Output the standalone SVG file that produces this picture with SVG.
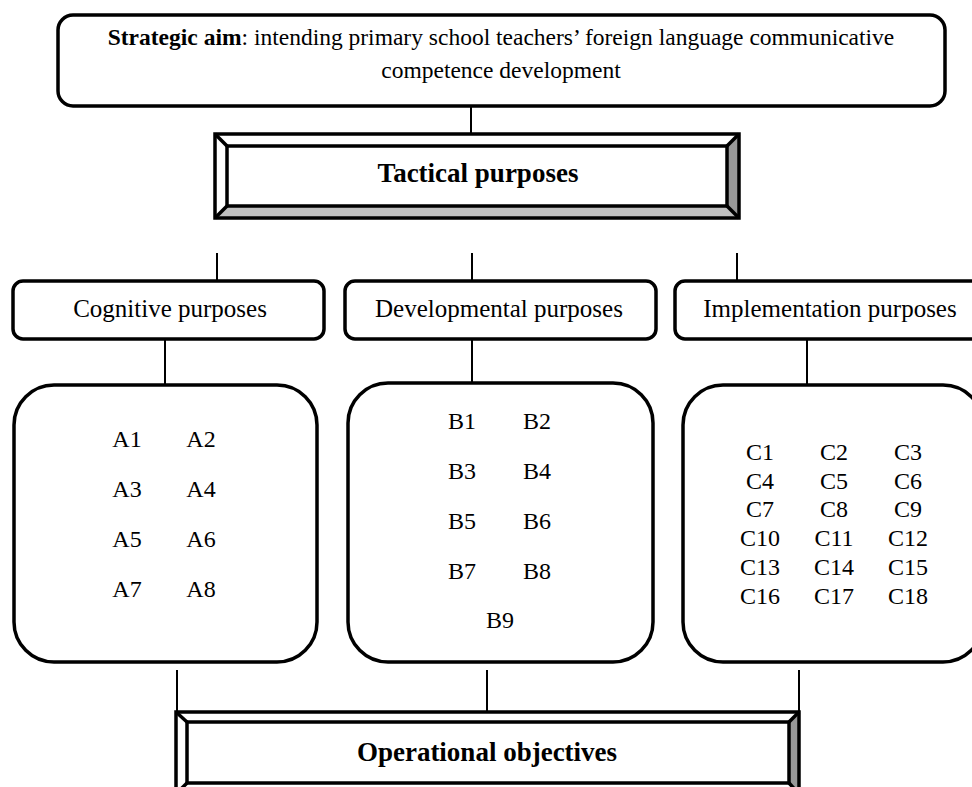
<svg xmlns="http://www.w3.org/2000/svg" width="972" height="787" viewBox="0 0 972 787">
<style>
.box{fill:#fff;stroke:#000;stroke-width:3.5}
.ln{stroke:#000;stroke-width:2;fill:none}
.bv{stroke:#000;stroke-width:3.5}
.t{font-family:"Liberation Serif","Times New Roman",serif;font-size:24px;fill:#000}
.tm{text-anchor:middle}
.b{font-weight:bold}
.lbl{font-size:25px}
.aim{font-size:23.5px}
.big{font-size:27px;font-weight:bold;text-anchor:middle}
</style>
<rect width="972" height="787" fill="#fff"/>
<g id="connectors">
<line class="ln" x1="471" y1="106" x2="471" y2="134"/>
<line class="ln" x1="217" y1="253" x2="217" y2="281"/>
<line class="ln" x1="472" y1="253" x2="472" y2="281"/>
<line class="ln" x1="737" y1="253" x2="737" y2="281"/>
<line class="ln" x1="165" y1="339" x2="165" y2="385"/>
<line class="ln" x1="472" y1="339" x2="472" y2="383"/>
<line class="ln" x1="807" y1="339" x2="807" y2="385"/>
<line class="ln" x1="177" y1="670" x2="177" y2="712"/>
<line class="ln" x1="487" y1="670" x2="487" y2="712"/>
<line class="ln" x1="799" y1="670" x2="799" y2="712"/>
</g>
<g id="strategic">
<rect class="box" x="58" y="15" width="887" height="91" rx="15"/>
<text class="t aim tm" x="501" y="45"><tspan class="b">Strategic aim</tspan>: intending primary school teachers’ foreign language communicative</text>
<text class="t aim tm" x="501" y="78">competence development</text>
</g>
<g id="tactical">
<rect x="215" y="134" width="524" height="84" fill="#fff"/>
<polygon points="727,146 739,134 739,218 727,206" fill="#999"/>
<polygon points="227,206 727,206 739,218 215,218" fill="#c0c0c0"/>
<line class="bv" x1="215" y1="134" x2="227" y2="146"/>
<line class="bv" x1="739" y1="134" x2="727" y2="146"/>
<line class="bv" x1="215" y1="218" x2="227" y2="206"/>
<line class="bv" x1="739" y1="218" x2="727" y2="206"/>
<rect x="215" y="134" width="524" height="84" fill="none" stroke="#000" stroke-width="3.5"/>
<rect x="227" y="146" width="500" height="60" fill="#fff" stroke="#000" stroke-width="3.5"/>
<text class="t big" x="478" y="182">Tactical purposes</text>
</g>
<g id="cognitive">
<rect class="box" x="13" y="281" width="311" height="58" rx="10"/>
<text class="t lbl tm" x="170" y="317">Cognitive purposes</text>
</g>
<g id="developmental">
<rect class="box" x="345" y="281" width="311" height="58" rx="10"/>
<text class="t lbl tm" x="499" y="317">Developmental purposes</text>
</g>
<g id="implementation">
<rect class="box" x="675" y="281" width="320" height="58" rx="10"/>
<text class="t lbl tm" x="830" y="317">Implementation purposes</text>
</g>
<g id="groupA">
<rect class="box" x="14" y="385" width="303" height="277" rx="40"/>
<g class="t tm">
<text x="127" y="447">A1</text><text x="201" y="447">A2</text>
<text x="127" y="497">A3</text><text x="201" y="497">A4</text>
<text x="127" y="547">A5</text><text x="201" y="547">A6</text>
<text x="127" y="597">A7</text><text x="201" y="597">A8</text>
</g>
</g>
<g id="groupB">
<rect class="box" x="348" y="383" width="305" height="279" rx="40"/>
<g class="t tm">
<text x="462" y="429">B1</text><text x="537" y="429">B2</text>
<text x="462" y="479">B3</text><text x="537" y="479">B4</text>
<text x="462" y="529">B5</text><text x="537" y="529">B6</text>
<text x="462" y="579">B7</text><text x="537" y="579">B8</text>
<text x="500" y="628">B9</text>
</g>
</g>
<g id="groupC">
<rect class="box" x="683" y="385" width="300" height="277" rx="40"/>
<g class="t tm">
<text x="760" y="460">C1</text><text x="834" y="460">C2</text><text x="908" y="460">C3</text>
<text x="760" y="489">C4</text><text x="834" y="489">C5</text><text x="908" y="489">C6</text>
<text x="760" y="517">C7</text><text x="834" y="517">C8</text><text x="908" y="517">C9</text>
<text x="760" y="546">C10</text><text x="834" y="546">C11</text><text x="908" y="546">C12</text>
<text x="760" y="575">C13</text><text x="834" y="575">C14</text><text x="908" y="575">C15</text>
<text x="760" y="604">C16</text><text x="834" y="604">C17</text><text x="908" y="604">C18</text>
</g>
</g>
<g id="operational">
<rect x="176" y="712" width="623" height="82" fill="#fff"/>
<polygon points="789,722 799,712 799,794 789,784" fill="#999"/>
<line class="bv" x1="176" y1="712" x2="187" y2="722"/>
<line class="bv" x1="799" y1="712" x2="789" y2="722"/>
<line class="bv" x1="176" y1="794" x2="187" y2="783"/>
<line class="bv" x1="799" y1="794" x2="789" y2="783"/>
<rect x="176" y="712" width="623" height="82" fill="none" stroke="#000" stroke-width="3.5"/>
<rect x="187" y="722" width="602" height="61" fill="#fff" stroke="#000" stroke-width="3.5"/>
<text class="t big" x="487" y="761">Operational objectives</text>
</g>
</svg>
